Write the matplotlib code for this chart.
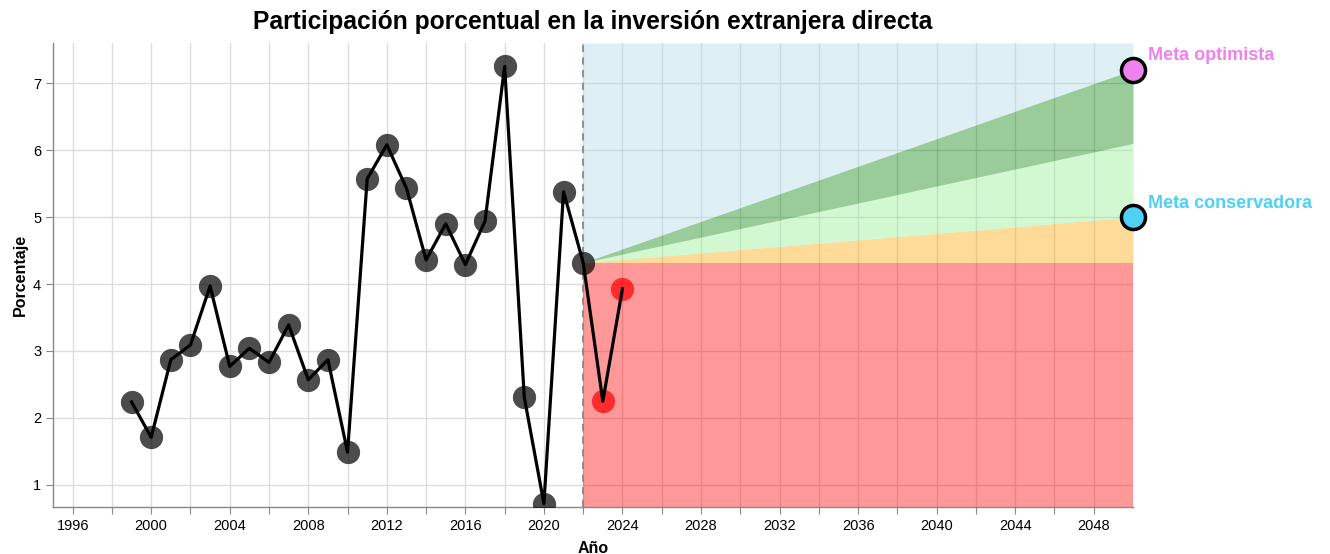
import matplotlib
matplotlib.use("Agg")
import matplotlib.pyplot as plt
import numpy as np

plt.rcParams['font.family'] = ['Liberation Sans', 'DejaVu Sans']

years = [1999, 2000, 2001, 2002, 2003, 2004, 2005, 2006, 2007, 2008, 2009, 2010,
         2011, 2012, 2013, 2014, 2015, 2016, 2017, 2018, 2019, 2020, 2021, 2022,
         2023, 2024]
values = [2.24, 1.71, 2.87, 3.09, 3.97, 2.77, 3.04, 2.83, 3.39, 2.57, 2.87, 1.49,
          5.57, 6.08, 5.43, 4.36, 4.90, 4.29, 4.94, 7.25, 2.31, 0.72, 5.38, 4.32,
          2.25, 3.93]
recent_years = [2023, 2024]
recent_values = [2.25, 3.93]

base_year = 2022
end_year = 2050
base_value = 4.32
meta_conservadora = 5.0
meta_intermedia = 6.1
meta_optimista = 7.2

title = "Participación porcentual en la inversión extranjera directa"
xlabel = "Año"
ylabel = "Porcentaje"

fig = plt.figure(figsize=(13.3, 5.54), dpi=100)
ax = fig.add_axes([53/1330, 47/554, 1080/1330, 464/554])
ymin, ymax = 0.67, 7.6
ax.set_xlim(1995, 2050)
ax.set_ylim(ymin, ymax)

# grid
ax.set_xticks(np.arange(1996, 2050, 2))
ax.set_xticklabels([str(y) if (y - 1996) % 4 == 0 else "" for y in range(1996, 2050, 2)])
ax.set_yticks([1, 2, 3, 4, 5, 6, 7])
ax.grid(True, color='#dddddd', linewidth=1)
ax.set_axisbelow(True)

fx = np.array([base_year, end_year])
cons = np.array([base_value, meta_conservadora])
mid = np.array([base_value, meta_intermedia])
opt = np.array([base_value, meta_optimista])
top = np.array([ymax, ymax])
bot = np.array([ymin, ymin])
base = np.array([base_value, base_value])

ax.fill_between(fx, bot, base, color='red', alpha=0.4, linewidth=0, zorder=2)
ax.fill_between(fx, base, cons, color='orange', alpha=0.4, linewidth=0, zorder=2)
ax.fill_between(fx, cons, mid, color='lightgreen', alpha=0.4, linewidth=0, zorder=2)
ax.fill_between(fx, mid, opt, color='green', alpha=0.4, linewidth=0, zorder=2)
ax.fill_between(fx, opt, top, color='lightblue', alpha=0.4, linewidth=0, zorder=2)

ax.axvline(base_year, color='#888888', linestyle=(0, (4, 3)), linewidth=1.3, zorder=3)

ax.scatter(years[:-2], values[:-2], s=280, color='black', alpha=0.7, linewidths=0, zorder=4)
ax.scatter(recent_years, recent_values, s=280, color='red', alpha=0.7, linewidths=0, zorder=4)
ax.plot(years, values, color='black', linewidth=2.3, zorder=5)

ax.scatter([end_year], [meta_optimista], s=300, color='violet', edgecolors='black',
           linewidths=2.5, zorder=6, clip_on=False)
ax.scatter([end_year], [meta_conservadora], s=300, color='#4fd1f5', edgecolors='black',
           linewidths=2.5, zorder=6, clip_on=False)
ax.annotate("Meta optimista", (end_year, meta_optimista), xytext=(11, 4),
            textcoords='offset points', color='violet', fontsize=13, fontweight='bold',
            ha='left', va='bottom', annotation_clip=False)
ax.annotate("Meta conservadora", (end_year, meta_conservadora), xytext=(11, 4),
            textcoords='offset points', color='#4fd1f5', fontsize=13, fontweight='bold',
            ha='left', va='bottom', annotation_clip=False)

for s in ['top', 'right']:
    ax.spines[s].set_visible(False)
for s in ['left', 'bottom']:
    ax.spines[s].set_color('#888888')
    ax.spines[s].set_linewidth(1)
ax.tick_params(axis='both', colors='#888888', length=5, labelcolor='black', labelsize=10.5)

ax.set_xlabel(xlabel, fontsize=11.5, fontweight='bold', labelpad=6)
ax.set_ylabel(ylabel, fontsize=11.5, fontweight='bold', labelpad=4)
fig.text(593/1330, 1 - 22/554, title, ha='center', va='center', fontsize=17.7, fontweight='bold')

fig.savefig("out.png", dpi=100)
